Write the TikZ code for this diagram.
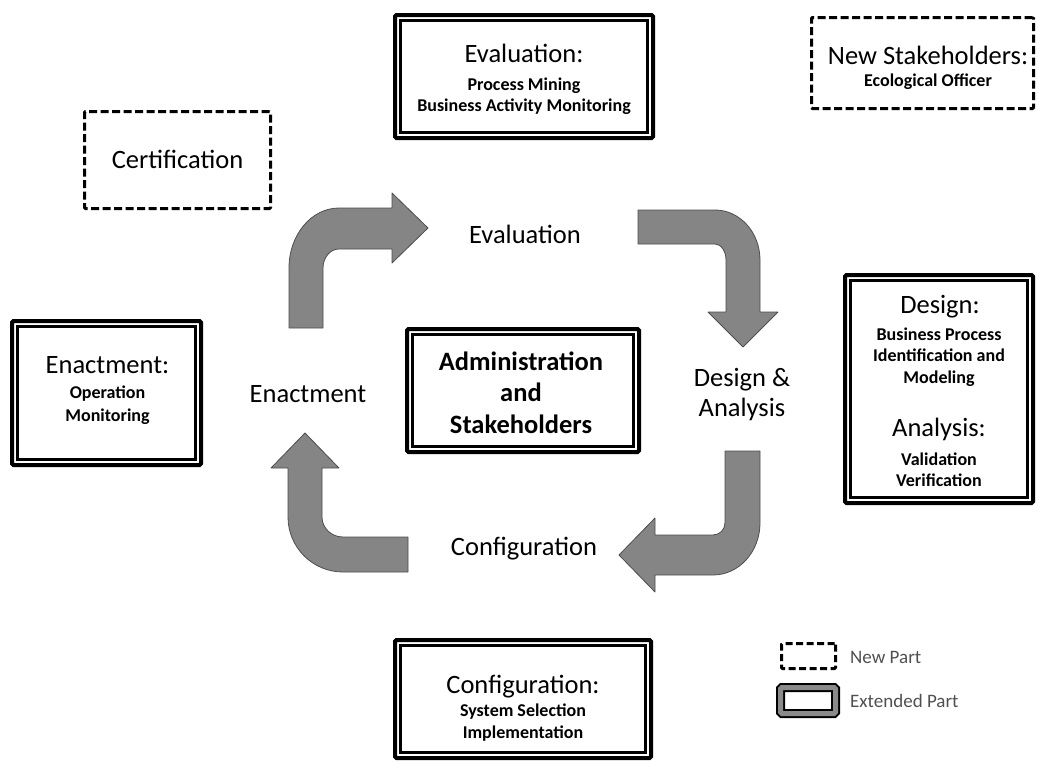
\documentclass[tikz,border=0pt]{standalone}
\usepackage{fontspec}
\setmainfont{Carlito}
\definecolor{arrowfill}{HTML}{858585}
\definecolor{arrowline}{HTML}{4D4D4D}
\definecolor{legendtext}{HTML}{505050}
\definecolor{legendband}{HTML}{8A8A8A}
\begin{document}
\begin{tikzpicture}[x=1pt,y=-1pt,
  title/.style={font=\fontsize{26.5}{30}\selectfont, anchor=base, inner sep=0},
  sub/.style={font=\bfseries\fontsize{18}{21}\selectfont, anchor=base, inner sep=0},
  legendlbl/.style={font=\fontsize{19}{22}\selectfont, text=legendtext, anchor=base west, inner sep=0},
  extbox/.style={draw=black, line width=4, rounded corners=1.5, outer sep=0, inner sep=0},
  newbox/.style={draw=black, line width=3, dash pattern=on 8 off 3.5, rounded corners=1, outer sep=0, inner sep=0},
  innerline/.style={draw=black, line width=2.5},
  blockarrow/.style={fill=arrowfill, draw=arrowline, line width=0.8, line join=round},
]
\newcommand\innerframe[1]{\draw[innerline] ([shift={(5.5,5.5)}]#1.north west) rectangle ([shift={(-5.5,-5.5)}]#1.south east);}
\useasboundingbox (0,0) rectangle (1037,763);

% ---- extended parts (double frame) ----
\node[extbox, minimum width=258, minimum height=123] (evalbox) at (524,76.5) {};
\innerframe{evalbox}
\node[title] (evalT) at (524,62) {Evaluation:};
\node[sub] (evalS1) at (524,90) {Process Mining};
\node[sub] (evalS2) at (524,111.5) {Business Activity Monitoring};

\node[extbox, minimum width=189, minimum height=144] (enactbox) at (106.5,393) {};
\innerframe{enactbox}
\node[title] (enactT) at (107.5,373.3) {Enactment:};
\node[sub] (enactS1) at (107.5,398.3) {Operation};
\node[sub] (enactS2) at (107.5,421.7) {Monitoring};

\node[extbox, minimum width=188, minimum height=228] (designbox) at (939,389) {};
\innerframe{designbox}
\node[title] (designT) at (940,313.3) {Design:};
\node[sub] (designS1) at (939,340) {Business Process};
\node[sub] (designS2) at (939,361.7) {Identification and};
\node[sub] (designS3) at (939,383.3) {Modeling};
\node[title] (analysisT) at (939,436.7) {Analysis:};
\node[sub] (analysisS1) at (939,465) {Validation};
\node[sub] (analysisS2) at (939,486.7) {Verification};

\node[extbox, minimum width=256, minimum height=118] (configbox) at (523,699) {};
\innerframe{configbox}
\node[title] (configT) at (523,693.3) {Configuration:};
\node[sub] (configS1) at (523,716.7) {System Selection};
\node[sub] (configS2) at (523,738.3) {Implementation};

\node[extbox, minimum width=232, minimum height=123] (adminbox) at (523,390.5) {};
\innerframe{adminbox}
\node[title, font=\bfseries\fontsize{26.5}{30}\selectfont] (adminT1) at (521,370) {Administration};
\node[title, font=\bfseries\fontsize{26.5}{30}\selectfont] (adminT2) at (521,401.7) {and};
\node[title, font=\bfseries\fontsize{26.5}{30}\selectfont] (adminT3) at (521,433.3) {Stakeholders};

% ---- new parts (dashed frame) ----
\node[newbox, minimum width=222, minimum height=91] (stakebox) at (922.5,63) {};
\node[title] (stakeT) at (928,64.3) {New Stakeholders:};
\node[sub] (stakeS) at (928,86.7) {Ecological Officer};

\node[newbox, minimum width=186, minimum height=97] (certbox) at (177.5,160) {};
\node[title] (certT) at (177.5,168.3) {Certification};

% ---- lifecycle phase labels ----
\node[title] (lblEval) at (525,243.3) {Evaluation};
\node[title] (lblDesign1) at (742,386.7) {Design \&};
\node[title] (lblDesign2) at (742,416.7) {Analysis};
\node[title] (lblConfig) at (524,555) {Configuration};
\node[title] (lblEnact) at (308,402) {Enactment};

% ---- bent block arrows of the cycle ----
% enactment -> evaluation
\path[blockarrow] (289,328) -- (289,268)
  arc[start angle=180, end angle=270, x radius=50, y radius=60]
  -- (392,208) -- (392,193) -- (428,228) -- (392,263) -- (392,249) -- (339,249)
  arc[start angle=270, end angle=180, x radius=16, y radius=19]
  -- (323,328) -- cycle;
% evaluation -> design & analysis
\path[blockarrow] (638,210) -- (715,210)
  arc[start angle=270, end angle=360, x radius=45, y radius=50]
  -- (760,312) -- (778,312) -- (743,347) -- (708,312) -- (726,312) -- (726,260)
  arc[start angle=0, end angle=-90, x radius=11, y radius=16]
  -- (638,244) -- cycle;
% design & analysis -> configuration
\path[blockarrow] (725,451) -- (760,451) -- (760,523)
  arc[start angle=0, end angle=90, x radius=47, y radius=52]
  -- (655,575) -- (655,592) -- (619,555) -- (655,518) -- (655,535) -- (713,535)
  arc[start angle=90, end angle=0, x radius=12, y radius=12]
  -- cycle;
% configuration -> enactment
\path[blockarrow] (408,537) -- (408,572) -- (343,572)
  arc[start angle=90, end angle=180, x radius=55, y radius=55]
  -- (288,468) -- (271,468) -- (305,433) -- (339,468) -- (322,468) -- (322,517)
  arc[start angle=180, end angle=90, x radius=21, y radius=20]
  -- cycle;

% ---- legend ----
\node[draw=black, line width=3, dash pattern=on 7 off 3.5, rounded corners=1, outer sep=0, inner sep=0,
      minimum width=54, minimum height=25] (legnew) at (808.5,656) {};
\node[legendlbl] (legnewT) at (850,663.3) {New Part};
\node[draw=black, double=legendband, line width=2, double distance=5, rounded corners=1.5, outer sep=0, inner sep=0,
      minimum width=55, minimum height=26] (legext) at (808,700.5) {};
\node[legendlbl] (legextT) at (850,707.3) {Extended Part};
\end{tikzpicture}
\end{document}
